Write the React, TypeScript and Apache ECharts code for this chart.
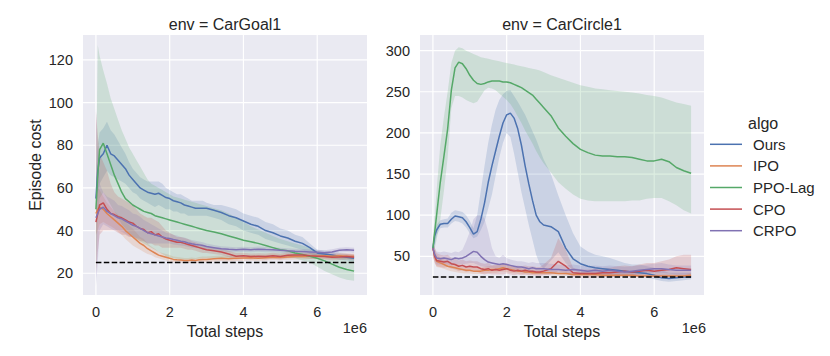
import React, { useEffect, useRef } from "react";
import * as echarts from "echarts";

// x positions in units of 1e6 steps
const X = [0, 0.05, 0.1,
  0.2, 0.3, 0.4, 0.5, 0.6, 0.7, 0.8, 0.9, 1.0,
  1.1, 1.2, 1.3, 1.4, 1.5, 1.6, 1.7, 1.8, 1.9, 2.0,
  2.1, 2.2, 2.3, 2.4, 2.5, 2.6, 2.7, 2.8, 2.9, 3.0,
  3.2, 3.4, 3.6, 3.8, 4.0, 4.2, 4.4, 4.6, 4.8, 5.0,
  5.2, 5.4, 5.6, 5.8, 6.0, 6.2, 6.4, 6.6, 6.8, 7.0];

const ALGOS = ["Ours", "IPO", "PPO-Lag", "CPO", "CRPO"];
const COLORS = ["#4C72B0", "#DD8452", "#55A868", "#C44E52", "#8172B3"];
const TITLES = ["env = CarGoal1", "env = CarCircle1"];
const X_TICKS = [0, 2, 4, 6];
const Y_TICKS_GOAL = [20, 40, 60, 80, 100, 120];
const Y_TICKS_CIRCLE = [50, 100, 150, 200, 250, 300];
const COST_LIMIT = 25;

// ---------- CarGoal1 ----------
const goalOursMean = [55, 68, 74, 76, 80, 76, 75, 73, 71, 69, 66, 64, 62, 60, 59, 58, 57.5, 57, 57.5, 56.5, 55.5, 55, 54, 53.5, 53, 52, 51.5, 51, 50.5, 50.5, 50.5, 50.5, 49.5, 48.5, 47, 46, 44.5, 43, 42, 40, 39, 37.5, 36.5, 35, 34, 32, 29.5, 29, 28.5, 28, 27.5, 27];
const goalOursLo = [45, 58, 62, 65, 68, 66, 65, 64, 63, 62, 60, 58, 57, 55, 54, 53, 52, 51, 52, 51, 50, 50, 49, 49, 48, 48, 47, 47, 47, 47, 47, 47, 46, 45, 43, 42, 40, 39, 38, 36, 35, 34, 33, 32, 31, 29, 28, 27.5, 27, 26.5, 26, 25.5];
const goalOursHi = [65, 80, 86, 88, 91, 87, 85, 82, 79, 76, 72, 69, 67, 65, 64, 63, 63, 63, 63, 62, 60, 59, 58, 57, 57, 56, 55, 54, 54, 54, 54, 53, 52, 52, 51, 50, 48, 47, 46, 44, 43, 41, 40, 38, 37, 34, 31, 30.5, 30, 29.5, 29, 28.5];

const goalIpoMean = [48, 50, 51, 50, 48, 46.5, 45, 43.5, 42, 40, 38.5, 37, 35.5, 34, 33, 31.5, 30.5, 29.5, 28.5, 28, 27.5, 27, 26.5, 26.3, 26.2, 26, 26, 26.2, 26, 26.3, 26.5, 26.5, 26.8, 27, 26.8, 27, 27.2, 27.3, 27, 27.3, 27.5, 27.4, 27.6, 27.8, 27.8, 28, 28, 28.2, 28, 28.2, 28, 28];
const goalIpoLo = [38, 40, 43, 44, 43, 42, 41, 39.5, 38, 36, 34.5, 33, 32, 31, 30, 29, 28.5, 27.5, 27, 26.5, 26, 25.5, 25.2, 25, 25, 24.8, 24.8, 25, 24.8, 25, 25.2, 25.2, 25.5, 25.7, 25.5, 25.7, 25.9, 26, 25.8, 26, 26.2, 26.1, 26.3, 26.5, 26.5, 26.7, 26.7, 26.9, 26.7, 26.9, 26.7, 26.7];
const goalIpoHi = [58, 60, 59, 56, 53, 51, 49, 47.5, 46, 44, 42.5, 41, 39, 37, 36, 34, 32.5, 31.5, 30, 29.5, 29, 28.5, 27.8, 27.6, 27.4, 27.2, 27.2, 27.4, 27.2, 27.6, 27.8, 27.8, 28.1, 28.3, 28.1, 28.3, 28.5, 28.6, 28.3, 28.6, 28.8, 28.7, 28.9, 29.1, 29.1, 29.3, 29.3, 29.5, 29.3, 29.5, 29.3, 29.3];

const goalPpoMean = [50, 66, 78, 81, 76, 71, 66, 62, 58, 55, 53.5, 52, 51, 50, 49, 48.5, 48, 47, 46.5, 46, 45.5, 45, 44.5, 44, 43.5, 43, 42.5, 42, 41.5, 41, 40.5, 40, 39.3, 38.5, 37.5, 36.5, 35.5, 34.8, 34, 33, 32, 31, 30.5, 29.5, 28.8, 28, 27, 25.8, 24.3, 22.8, 21.8, 21];
const goalPpoLo = [20, 45, 55, 58, 55, 52, 49, 46, 43, 41, 39, 37.5, 36, 35, 34, 33, 32, 31, 30, 29, 28, 27.5, 27, 26.8, 26.6, 26.5, 26.5, 26.6, 26.7, 26.8, 27, 27, 27, 27, 27.2, 27.5, 28, 28, 28, 28, 28, 28, 27.5, 27, 26, 25, 23, 21, 19.5, 18, 17, 16.5];
const goalPpoHi = [60, 127, 122, 115, 109, 102, 97, 92, 87, 83, 79, 76, 73, 70, 67, 64, 62, 61, 60, 59, 58, 57, 56, 55.5, 55, 54.5, 54, 53.5, 53, 52.5, 52, 51.5, 50.5, 49.5, 48, 46, 44, 42, 40.5, 39, 37.5, 36, 35, 34, 33, 32, 30.5, 29.5, 28.5, 28, 27.5, 27];

const goalCpoMean = [44, 48, 52, 53, 50, 48, 47.5, 46.5, 46, 45, 44, 43.5, 42, 41, 40.5, 39, 39.5, 38, 38.5, 37, 36, 35.5, 35, 34.5, 34.5, 34, 33.5, 33, 32.5, 32, 31.5, 31, 30.5, 30, 29, 28, 28.2, 27.8, 28, 27.8, 28.2, 27.8, 28.4, 28.6, 28.5, 28.2, 28, 27.8, 27.5, 27.6, 27.8, 27.5];
const goalCpoLo = [20, 30, 38, 40, 40, 40, 40, 39, 38, 38, 37, 37, 36, 35, 35, 34, 34, 33, 33, 32, 32, 32, 32, 32, 32, 31.5, 31, 31, 30.5, 30, 29.5, 29.5, 29, 28.5, 27.5, 26.5, 26.8, 26.5, 26.7, 26.5, 26.9, 26.5, 27, 27.2, 27.1, 26.8, 26.6, 26.4, 26.1, 26.2, 26.4, 26.1];
const goalCpoHi = [96, 85, 76, 72, 68, 62, 58, 56, 55, 54, 53, 52, 50, 48, 47, 46, 46, 45, 44, 42, 40, 39, 38, 37, 37, 36.5, 36, 35, 34.5, 34, 33.5, 32.5, 32, 31.5, 30.5, 29.5, 29.6, 29.2, 29.4, 29.2, 29.6, 29.2, 29.8, 30, 29.9, 29.6, 29.4, 29.2, 28.9, 29, 29.2, 28.9];

const goalCrpoMean = [46, 48, 50, 51, 49, 48, 47, 46, 45.5, 44.5, 43.5, 42.5, 42, 41, 40, 39, 38.5, 38, 37.5, 37, 36.5, 36.3, 35.8, 35.5, 35, 34.8, 34.2, 33.8, 33.5, 33.3, 33, 32.5, 32, 31.5, 31.2, 31, 31.2, 31, 31.3, 31.1, 31, 30.8, 30.5, 30.3, 30.2, 30, 29.8, 29.6, 30, 30.8, 31, 30.8];
const goalCrpoLo = [14, 25, 40, 43, 42, 41, 40, 40, 39.5, 38.5, 37.5, 37, 36.5, 36, 35, 34, 34, 34, 34, 34, 34, 34, 33.5, 33.3, 33, 32.8, 32.4, 32, 31.8, 31.7, 31.5, 31.1, 30.7, 30.3, 30, 29.8, 30, 29.8, 30.1, 29.9, 29.8, 29.6, 29.3, 29.1, 29, 28.8, 28.6, 28.4, 28.8, 29.6, 29.8, 29.6];
const goalCrpoHi = [97, 80, 62, 58, 56, 55, 54, 52, 51.5, 50.5, 49.5, 48, 47.5, 46.5, 45, 44, 43, 42, 41, 40, 39, 38.6, 38.1, 37.7, 37, 36.8, 36, 35.6, 35.2, 34.9, 34.5, 33.9, 33.3, 32.7, 32.4, 32.2, 32.4, 32.2, 32.5, 32.3, 32.2, 32, 31.7, 31.5, 31.4, 31.2, 31, 30.8, 31.2, 32, 32.2, 32];

// ---------- CarCircle1 ----------
const circOursMean = [60, 75, 82, 89, 90, 90, 95, 99, 98, 97, 92, 85, 77, 80, 95, 115, 140, 160, 178, 196, 212, 222, 224, 218, 205, 185, 160, 138, 118, 100, 92, 88, 86, 80, 60, 47, 41, 38, 36, 35, 34, 33, 32, 31, 30, 29, 27, 24, 23, 24, 25, 25];
const circOursLo = [50, 65, 75, 84, 85, 85, 90, 93, 92, 90, 85, 78, 72, 74, 82, 92, 108, 125, 148, 170, 188, 200, 195, 175, 152, 128, 108, 88, 70, 52, 40, 35, 45, 55, 42, 33, 30, 28, 27, 27, 26, 26, 26, 25, 25, 24, 22, 20, 19, 20, 21, 22];
const circOursHi = [70, 82, 88, 94, 95, 96, 103, 106, 105, 104, 100, 93, 84, 100, 130, 160, 188, 210, 228, 240, 247, 251, 252, 245, 238, 230, 222, 212, 202, 192, 180, 168, 150, 124, 100, 78, 62, 56, 52, 50, 48, 45, 42, 40, 40, 38, 36, 33, 30, 30, 30, 30];

const circIpoMean = [60, 50, 44, 42, 40, 38, 37, 36, 35, 34, 33, 33, 32, 32, 32, 33, 33, 34, 34, 35, 36, 35, 34, 33, 32, 32, 31, 31, 30, 30, 30, 30, 30, 29, 29, 28, 28, 28, 28, 27, 27, 27, 27, 27, 26, 26, 26, 26, 26, 26, 26, 27];
const circIpoLo = [50, 42, 37, 36, 35, 33, 32, 31, 30, 29.5, 29, 29, 28.5, 28.5, 28.5, 29, 29, 30, 30, 31, 31.5, 31, 30, 29.5, 29, 28.5, 28, 28, 27.5, 27.5, 27.5, 27.5, 27, 26.5, 26.5, 26, 26, 25.5, 25.5, 25, 25, 25, 25, 25, 24.5, 24.5, 24.5, 24.5, 24.5, 24.5, 24.5, 25];
const circIpoHi = [70, 58, 52, 49, 46, 44, 42, 41, 40, 39, 38, 37.5, 36, 36, 36, 37, 38, 39, 39, 40, 41, 40, 38.5, 37, 36, 35.5, 34.5, 34, 33, 33, 33, 33, 33, 32, 32, 31, 30.5, 30.5, 30.5, 29.5, 29.5, 29.5, 29.5, 29.5, 28.5, 28.5, 28, 28, 28, 28, 28, 29.5];

const circPpoMean = [60, 80, 100, 140, 172, 205, 252, 279, 286, 284, 278, 270, 264, 260, 259, 260, 262, 263, 263, 263, 262, 262, 261, 259, 257, 255, 252, 249, 246, 241, 236, 231, 221, 206, 196, 187, 180, 176, 173, 172, 172, 171, 171, 170, 168, 166, 166, 168, 165, 158, 154, 151];
const circPpoLo = [50, 60, 70, 95, 130, 170, 230, 245, 245, 243, 240, 238, 236, 238, 245, 252, 255, 254, 252, 248, 244, 240, 235, 228, 220, 212, 203, 195, 187, 178, 170, 163, 152, 140, 132, 125, 120, 118, 117, 117, 117, 117, 117, 118, 118, 120, 121, 121, 117, 112, 106, 102];
const circPpoHi = [70, 100, 130, 185, 220, 250, 285, 300, 304, 303, 300, 298, 296, 294, 292, 291, 290, 289, 288, 287, 286, 285, 284, 283, 282, 281, 280, 279, 278, 277, 276, 274, 270, 267, 264, 261, 258, 256, 254, 253, 252, 251, 250, 249, 248, 246, 245, 243, 240, 237, 235, 233];

const circCpoMean = [60, 50, 45, 44, 43, 44, 41, 40, 38, 39, 37, 38, 37, 37, 35, 34, 35, 33, 34, 33, 34, 35, 33, 32, 33, 32, 33, 32, 32, 31, 31, 32, 35, 44, 38, 30, 29, 29, 29, 30, 30, 31, 32, 31, 32, 33, 32, 33, 34, 36, 35, 34];
const circCpoLo = [50, 42, 38, 37, 36, 37, 35, 34, 32, 33, 31, 32, 31, 31, 29, 28, 29, 28, 28, 28, 28, 29, 28, 27, 28, 27, 28, 27, 27, 26, 26, 27, 28, 32, 30, 25, 24, 24, 24, 25, 25, 25, 26, 25, 26, 26, 25, 26, 26, 27, 26, 25];
const circCpoHi = [70, 60, 54, 52, 51, 52, 48, 47, 45, 46, 44, 45, 44, 44, 42, 41, 42, 39, 40, 39, 41, 42, 39, 38, 39, 38, 39, 38, 38, 37, 37, 40, 48, 72, 58, 36, 34, 34, 35, 36, 36, 38, 39, 38, 40, 42, 42, 44, 46, 50, 52, 52];

const circCrpoMean = [60, 52, 48, 47, 48, 47, 46, 48, 47, 48, 50, 53, 56, 55, 50, 46, 43, 42, 41, 40, 41, 40, 39, 38, 37, 37, 36, 35, 36, 35, 35, 35, 34, 34, 33, 34, 33, 32, 33, 32, 33, 32, 31, 32, 33, 34, 35, 35, 34, 33, 33, 33];
const circCrpoLo = [50, 44, 40, 40, 41, 40, 39, 41, 40, 40, 41, 42, 42, 40, 38, 37, 36, 36, 35, 34, 35, 34, 33, 32, 31, 31, 30, 30, 30, 29, 29, 29, 29, 29, 28, 29, 28, 27, 28, 27, 28, 27, 26, 27, 28, 29, 30, 30, 29, 28, 28, 28];
const circCrpoHi = [70, 60, 56, 55, 56, 55, 54, 56, 55, 58, 68, 80, 95, 100, 100, 96, 80, 60, 50, 48, 52, 48, 46, 45, 44, 44, 43, 42, 43, 42, 42, 42, 41, 40, 39, 40, 39, 38, 39, 38, 39, 38, 37, 38, 39, 40, 41, 42, 40, 39, 39, 39];

const GOAL = [
  [goalOursMean, goalOursLo, goalOursHi],
  [goalIpoMean, goalIpoLo, goalIpoHi],
  [goalPpoMean, goalPpoLo, goalPpoHi],
  [goalCpoMean, goalCpoLo, goalCpoHi],
  [goalCrpoMean, goalCrpoLo, goalCrpoHi],
];
const CIRCLE = [
  [circOursMean, circOursLo, circOursHi],
  [circIpoMean, circIpoLo, circIpoHi],
  [circPpoMean, circPpoLo, circPpoHi],
  [circCpoMean, circCpoLo, circCpoHi],
  [circCrpoMean, circCrpoLo, circCrpoHi],
];

const FONT = "'Liberation Sans', Arial, sans-serif";
const TXT = "#262626";
const BG = "#EAEAF2";

function rgba(hex: string, a: number) {
  const n = parseInt(hex.slice(1), 16);
  return `rgba(${(n >> 16) & 255},${(n >> 8) & 255},${n & 255},${a})`;
}

function gridSeries(idx: number, xTicks: number[], yTicks: number[], xr: number[], yr: number[]) {
  return {
    type: "custom", xAxisIndex: idx, yAxisIndex: idx, z: 1, silent: true,
    data: [[xTicks[0], yTicks[0]]],
    renderItem: (_p: any, api: any) => {
      const children: any[] = [];
      xTicks.forEach((v) => {
        const a = api.coord([v, yr[0]]); const b = api.coord([v, yr[1]]);
        children.push({ type: "line", shape: { x1: a[0], y1: a[1], x2: b[0], y2: b[1] }, style: { stroke: "#ffffff", lineWidth: 1.2 } });
      });
      yTicks.forEach((v) => {
        const a = api.coord([xr[0], v]); const b = api.coord([xr[1], v]);
        children.push({ type: "line", shape: { x1: a[0], y1: a[1], x2: b[0], y2: b[1] }, style: { stroke: "#ffffff", lineWidth: 1.2 } });
      });
      return { type: "group", children };
    },
  };
}

function bandSeries(idx: number, lo: number[], hi: number[], color: string, name: string) {
  return {
    type: "custom", name, xAxisIndex: idx, yAxisIndex: idx, z: 2, silent: true, clip: true,
    data: [[X[0], lo[0]]],
    renderItem: (_p: any, api: any) => {
      const pts: number[][] = [];
      for (let i = 0; i < X.length; i++) pts.push(api.coord([X[i], hi[i]]));
      for (let i = X.length - 1; i >= 0; i--) pts.push(api.coord([X[i], lo[i]]));
      return { type: "polygon", shape: { points: pts }, style: { fill: rgba(color, 0.2) } };
    },
  };
}

function lineSeries(idx: number, m: number[], color: string, name: string) {
  return {
    type: "line", name, xAxisIndex: idx, yAxisIndex: idx, z: 3, silent: true,
    showSymbol: false, symbol: "none",
    data: X.map((x, i) => [x, m[i]]),
    lineStyle: { color, width: 1.5 },
    itemStyle: { color },
  };
}

export default function App() {
  const ref = useRef<HTMLDivElement>(null);
  useEffect(() => {
    const chart = echarts.init(ref.current!, undefined, { renderer: "svg" });
    const xr = [-0.35, 7.35];
    const yrs = [[9.8, 131.7], [3, 319]];
    const yTicks = [Y_TICKS_GOAL, Y_TICKS_CIRCLE];
    const grids = [
      { left: 83, top: 35, width: 284, height: 260 },
      { left: 420, top: 35, width: 284, height: 260 },
    ];
    const series: any[] = [];
    [GOAL, CIRCLE].forEach((panel, p) => {
      series.push(gridSeries(p, X_TICKS, yTicks[p], xr, yrs[p]));
      panel.forEach((s, k) => series.push(bandSeries(p, s[1], s[2], COLORS[k], ALGOS[k] + " band")));
      panel.forEach((s, k) => series.push(lineSeries(p, s[0], COLORS[k], ALGOS[k])));
      series.push({
        type: "line", xAxisIndex: p, yAxisIndex: p, z: 4, silent: true, symbol: "none",
        data: [[0, COST_LIMIT], [7, COST_LIMIT]],
        lineStyle: { color: "#000", width: 1.5, type: [5.5, 2.4] },
      });
    });
    const axisLabel = (vals: number[], margin: number) => ({
      customValues: vals, margin, color: TXT, fontSize: 14.5, fontFamily: FONT,
    });
    const xAxis = [0, 1].map((p) => ({
      type: "value", gridIndex: p, min: xr[0], max: xr[1],
      axisLine: { show: false }, axisTick: { show: false, customValues: X_TICKS }, splitLine: { show: false },
      axisLabel: axisLabel(X_TICKS, 9),
      name: "Total steps", nameLocation: "middle", nameGap: 27,
      nameTextStyle: { color: TXT, fontSize: 16, fontFamily: FONT },
    }));
    const yAxis = [0, 1].map((p) => ({
      type: "value", gridIndex: p, min: yrs[p][0], max: yrs[p][1],
      axisLine: { show: false }, axisTick: { show: false, customValues: yTicks[p] }, splitLine: { show: false },
      axisLabel: axisLabel(yTicks[p], 10),
      name: p === 0 ? "Episode cost" : "", nameLocation: "middle", nameGap: 40,
      nameTextStyle: { color: TXT, fontSize: 16, fontFamily: FONT },
    }));
    const graphic: any[] = [];
    TITLES.forEach((t, p) => {
      graphic.push({ type: "text", x: grids[p].left + grids[p].width / 2, y: 24,
        style: { text: t, fill: TXT, font: `16px ${FONT}`, textAlign: "center", textVerticalAlign: "middle" } });
      graphic.push({ type: "text", x: grids[p].left + grids[p].width + (p === 0 ? 0 : 2), y: 328,
        style: { text: "1e6", fill: TXT, font: `14.5px ${FONT}`, textAlign: "right", textVerticalAlign: "middle" } });
    });
    graphic.push({ type: "text", x: 748, y: 123,
      style: { text: "algo", fill: TXT, font: `16px ${FONT}`, textAlign: "left", textVerticalAlign: "middle" } });
    ALGOS.forEach((a, k) => {
      const y = 144.3 + k * 21.6;
      graphic.push({ type: "line", shape: { x1: 710, y1: y, x2: 742, y2: y }, style: { stroke: COLORS[k], lineWidth: 1.5 } });
      graphic.push({ type: "text", x: 753, y,
        style: { text: a, fill: TXT, font: `15px ${FONT}`, textAlign: "left", textVerticalAlign: "middle" } });
    });
    chart.setOption({
      animation: false,
      backgroundColor: "#ffffff",
      textStyle: { fontFamily: FONT },
      grid: grids.map((g) => ({ ...g, show: true, backgroundColor: BG, borderWidth: 0, containLabel: false })),
      xAxis, yAxis, series, graphic,
    });
    return () => chart.dispose();
  }, []);
  return <div ref={ref} style={{ position: "absolute", left: 0, top: 0, width: 830, height: 356 }} />;
}
